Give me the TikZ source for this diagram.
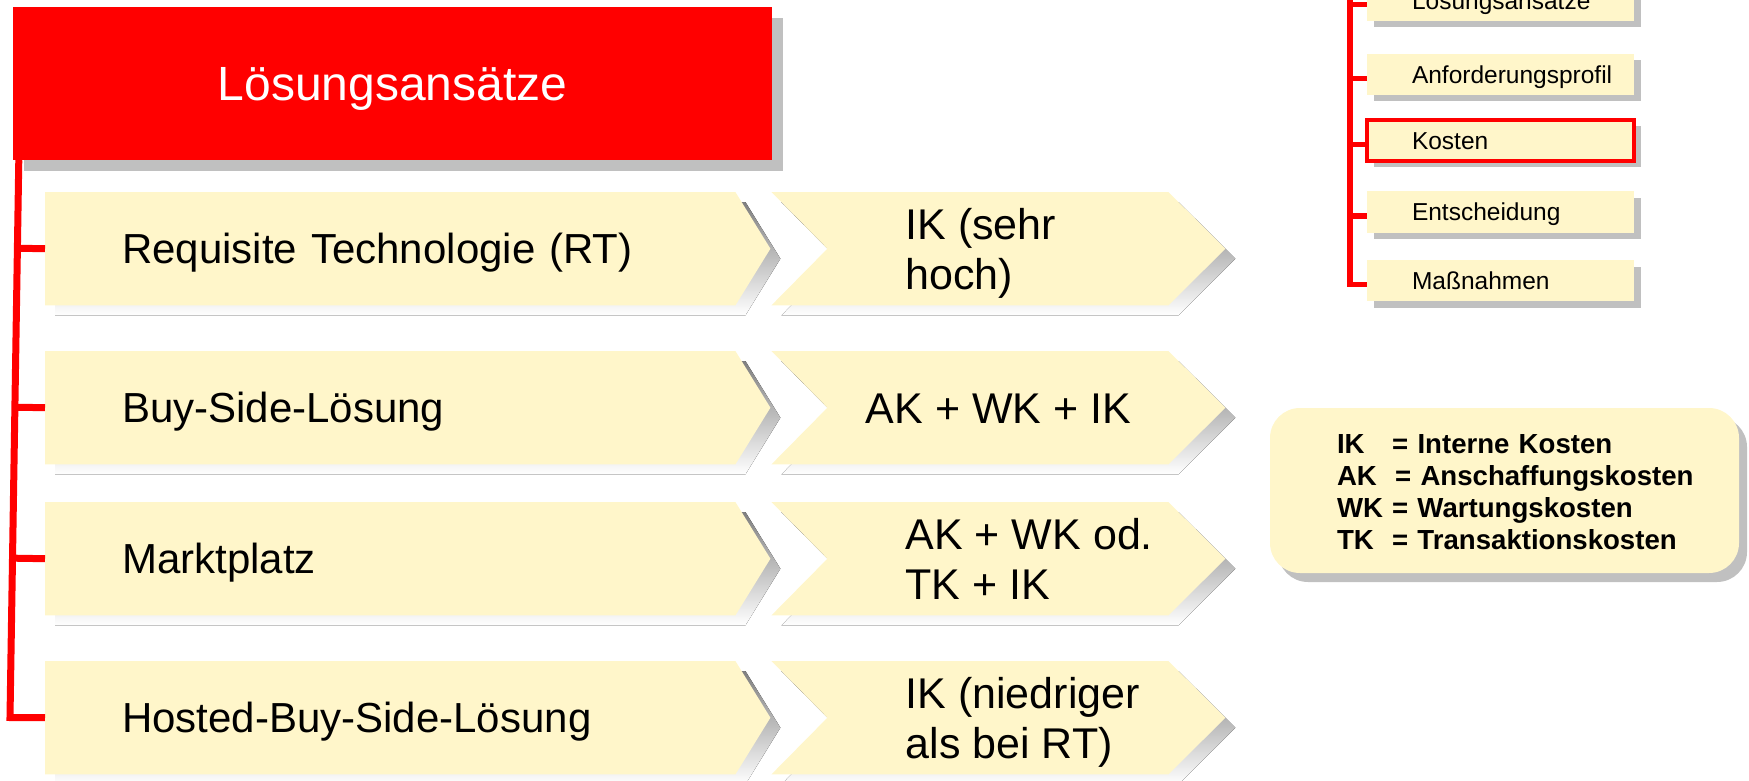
\documentclass[tikz,border=0pt]{standalone}
\usepackage{fontspec}
\setmainfont{Liberation Sans}
\usetikzlibrary{calc,shadows}

\definecolor{cream}{RGB}{255,246,202}
\definecolor{shade}{RGB}{192,192,192}
\definecolor{signalred}{RGB}{255,0,0}

\pgfdeclarelayer{bg}
\pgfsetlayers{bg,main}

\hyphenpenalty=10000
\exhyphenpenalty=10000

\newcommand\fHead{\fontsize{48}{56}\selectfont}
\newcommand\fRow{\fontsize{42}{50}\selectfont}
\newcommand\fChev{\fontsize{43}{50}\selectfont}
\newcommand\fNav{\fontsize{24.5}{29}\selectfont}
\newcommand\fLegend{\fontsize{27.6}{32}\selectfont\bfseries}

% pointed box behind a row node, with its shadow (offset 10 right, 10 down)
\newcommand\leftarrowbox[1]{%
  \fill[shade] ($(#1.north west)+(10,10)$) -- ($(#1.north east)+(10,10)$)
    -- ($(#1.east)+(45,10)$) -- ($(#1.south east)+(10,10)$)
    -- ($(#1.south west)+(10,10)$) -- cycle;
  \fill[cream] (#1.north west) -- (#1.north east) -- ($(#1.east)+(35,0)$)
    -- (#1.south east) -- (#1.south west) -- cycle;}

% chevron to the right of a row node, with its shadow
\newcommand\chevronbox[1]{%
  \fill[shade] ($(#1.north east)+(46,10)$) -- ($(#1.north east)+(443,10)$)
    -- ($(#1.east)+(500,10)$) -- ($(#1.south east)+(443,10)$)
    -- ($(#1.south east)+(46,10)$) -- ($(#1.east)+(102,10)$) -- cycle;
  \fill[cream] ($(#1.north east)+(36,0)$) -- ($(#1.north east)+(433,0)$)
    -- ($(#1.east)+(490,0)$) -- ($(#1.south east)+(433,0)$)
    -- ($(#1.south east)+(36,0)$) -- ($(#1.east)+(92,0)$) -- cycle;}

\tikzset{
  headbox/.style={rectangle, fill=signalred, text=white, minimum width=759pt,
    minimum height=153pt, inner sep=0pt, font=\fHead, text height=34.4pt, text depth=0pt,
    drop shadow={shadow xshift=11pt, shadow yshift=-11pt, fill=shade, opacity=1}},
  rowbox/.style={rectangle, anchor=north west, minimum height=113pt, inner sep=0pt,
    text width=690pt, align=left, font=\fRow, text height=30pt, text depth=0pt,
    execute at begin node={\hspace*{77pt}}},
  chevtext/.style={anchor=west, align=left, inner sep=0pt, font=\fChev,
    text height=81pt, text depth=0pt},
  spine/.style={draw=signalred, line width=7pt},
  navline/.style={draw=signalred, line width=5.5pt},
  navbox/.style={rectangle, fill=cream, minimum width=267pt, minimum height=41pt,
    inner sep=0pt, text width=267pt, align=left, font=\fNav, text height=17.5pt,
    text depth=0pt, execute at begin node={\hspace*{45pt}},
    drop shadow={shadow xshift=6.5pt, shadow yshift=-6.5pt, fill=shade, opacity=1}},
  navactive/.style={navbox, draw=signalred, line width=4pt},
  legendbox/.style={rectangle, rounded corners=30pt, fill=cream, minimum width=469pt,
    minimum height=165pt, inner sep=0pt, text width=469pt, align=left, font=\fLegend,
    execute at begin node={\hspace*{67pt}},
    drop shadow={shadow xshift=8pt, shadow yshift=-9pt, fill=shade, opacity=1}},
}

\begin{document}
\begin{tikzpicture}[x=1pt,y=-1pt]
\useasboundingbox (0,0) rectangle (1749,781);

% title block
\node[headbox] (head) at (392.5,83.5) {Lösungsansätze};

% solution rows
\node[rowbox] (r1) at (45,192) {Requisite Technologie (RT)};
\node[rowbox] (r2) at (45,351) {Buy-Side-Lösung};
\node[rowbox] (r3) at (45,502) {Marktplatz};
\node[rowbox] (r4) at (45,661) {Hosted-Buy-Side-Lösung};

\begin{pgfonlayer}{bg}
  \foreach \r in {r1,r2,r3,r4}{\leftarrowbox{\r}\chevronbox{\r}}
\end{pgfonlayer}

% cost entries in the chevrons
\node[chevtext] (k1) at ([xshift=170pt]r1.east) {IK (sehr\\hoch)};
\node[chevtext, anchor=center, text height=31pt] (k2) at ([xshift=263pt]r2.east) {AK + WK + IK};
\node[chevtext] (k3) at ([xshift=170pt]r3.east) {AK + WK od.\\TK + IK};
\node[chevtext] (k4) at ([xshift=170pt]r4.east) {IK (niedriger\\als bei RT)};

% red tree line
\coordinate (spinetop) at ([xshift=6pt]head.south west);
\coordinate (spinefoot) at (10,717.5);
\draw[spine] (spinetop) -- (spinefoot) -- (r4.west);
\foreach \r in {r1,r2,r3}
  \draw[spine] ($(spinetop)!(\r.west)!(spinefoot)$) -- (\r.west);

% navigation outline
\node[navbox] (n1) at (1500.5,0.5) {Lösungsansätze};
\node[navbox] (n2) at (1500.5,74.5) {Anforderungsprofil};
\node[navactive] (n3) at (1500.5,140.5) {Kosten};
\node[navbox] (n4) at (1500.5,212) {Entscheidung};
\node[navbox] (n5) at (1500.5,280.5) {Maßnahmen};

\coordinate (navtop) at (1350,-10);
\coordinate (b1) at ($(n1.west)+(0,4)$);
\coordinate (b2) at ($(n2.west)+(0,4)$);
\coordinate (b3) at ($(n3.west)+(0,4)$);
\coordinate (b4) at ($(n4.west)+(0,4)$);
\coordinate (b5) at ($(n5.west)+(0,4)$);
\draw[navline] (navtop) |- (b5);
\foreach \b in {b1,b2,b3,b4}
  \draw[navline] (navtop |- \b) -- (\b);

% abbreviations
\node[legendbox] (legend) at (1504.5,490.5) {\raisebox{-5pt}[\height][\depth]{%
\begin{tabular}{@{}l@{}}
IK\ \ \ = Interne Kosten\\
AK\ \ = Anschaffungskosten\\
WK = Wartungskosten\\
TK\ \ = Transaktionskosten
\end{tabular}}};
\end{tikzpicture}
\end{document}
